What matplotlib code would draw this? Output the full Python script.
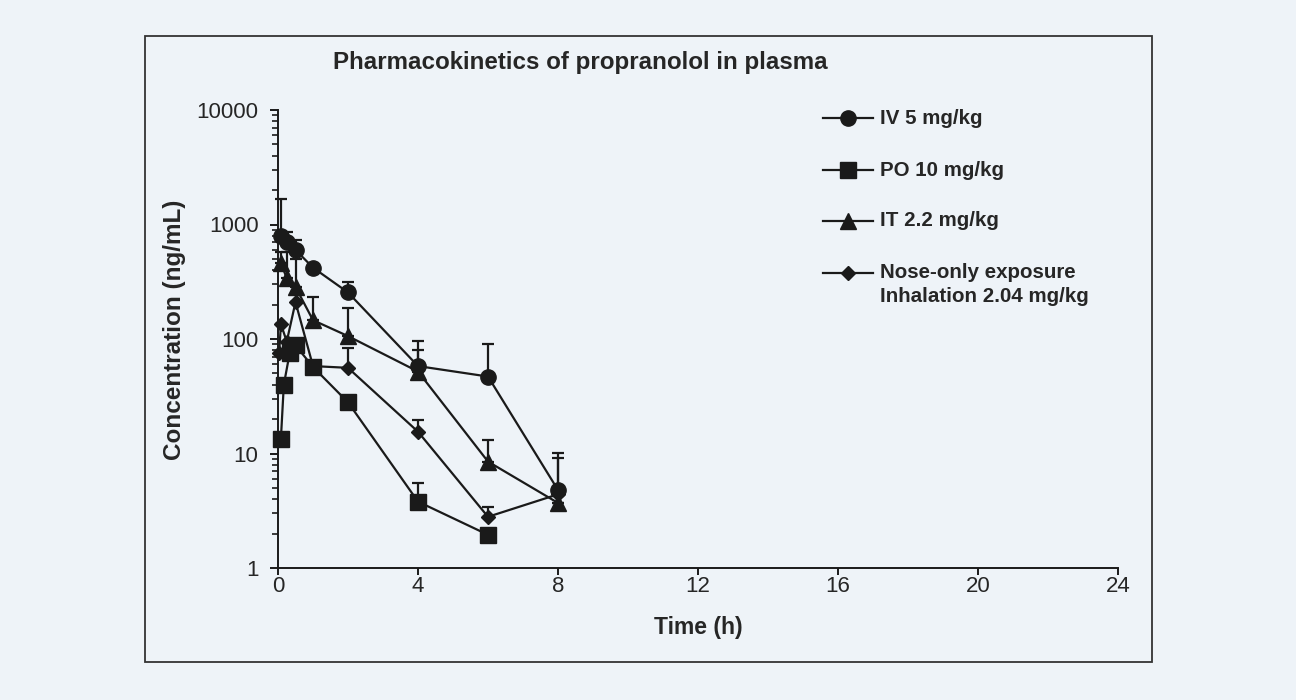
import numpy as np
import matplotlib
matplotlib.use("Agg")
import matplotlib.pyplot as plt
from matplotlib.lines import Line2D
from matplotlib.patches import Rectangle

plt.rcParams['font.family'] = ['Liberation Sans', 'DejaVu Sans']

# plasma concentrations (ng/mL), mean and upper SD
iv_t = [0.083, 0.25, 0.5, 1, 2, 4, 6, 8]
iv_c = [800, 700, 600, 420, 255, 58, 47, 4.8]
iv_sd = [860, 160, 130, 0, 60, 38, 44, 5.4]

po_t = [0.083, 0.167, 0.333, 0.5, 1, 2, 4, 6]
po_c = [13.5, 40, 75, 88, 57, 28, 3.8, 1.95]
po_sd = [0, 0, 0, 0, 0, 0, 1.7, 0]

it_t = [0.083, 0.25, 0.5, 1, 2, 4, 6, 8]
it_c = [460, 340, 285, 146, 106, 52, 8.5, 3.7]
it_sd = [120, 230, 210, 88, 82, 28, 4.5, 0]

inh_t = [0.033, 0.083, 0.25, 0.5, 1, 2, 4, 6, 8]
inh_c = [75, 135, 95, 210, 58, 56, 15.5, 2.8, 4.4]
inh_sd = [0, 0, 0, 0, 0, 27, 4, 0.6, 4.7]

labels = ["IV 5 mg/kg", "PO 10 mg/kg", "IT 2.2 mg/kg",
          "Nose-only exposure\nInhalation 2.04 mg/kg"]

bg = '#eef3f8'
ink = '#1a1a1a'
txt = '#262626'
fig = plt.figure(figsize=(12.96, 7.0), dpi=100, facecolor=bg)
ax = fig.add_axes([278/1296, 1-568/700, 840/1296, 458/700], facecolor=bg)

# outer frame around the panel
fig.patches.append(Rectangle((145/1296, 1-662/700), 1007/1296, 626/700,
                             transform=fig.transFigure, fill=False,
                             edgecolor='#333333', lw=1.3))

series = [(iv_t, iv_c, iv_sd, 'o', 11),
          (po_t, po_c, po_sd, 's', 11),
          (it_t, it_c, it_sd, '^', 12),
          (inh_t, inh_c, inh_sd, 'D', 7.5)]

for t, c, sd, mk, ms in series:
    sd = np.array(sd, dtype=float)
    ax.errorbar(t, c, yerr=[np.zeros_like(sd), sd], fmt='none',
                ecolor=ink, elinewidth=1.6, capsize=4.5, capthick=1.6,
                clip_on=False, zorder=2)
    ax.plot(t, c, color=ink, lw=1.6, marker=mk, ms=ms, mfc=ink, mec=ink,
            clip_on=False, zorder=3)

ax.set_yscale('log')
ax.set_ylim(1, 10000)
ax.set_xlim(0, 24)
ax.set_xticks([0, 4, 8, 12, 16, 20, 24])
ax.set_yticks([1, 10, 100, 1000, 10000])
ax.set_yticklabels(['1', '10', '100', '1000', '10000'])
ax.yaxis.set_minor_locator(matplotlib.ticker.LogLocator(base=10, subs=np.arange(2, 10)))
ax.yaxis.set_minor_formatter(matplotlib.ticker.NullFormatter())

for s in ['top', 'right']:
    ax.spines[s].set_visible(False)
for s in ['left', 'bottom']:
    ax.spines[s].set_linewidth(1.4)
    ax.spines[s].set_color(ink)

ax.tick_params(axis='y', which='major', direction='out', length=6, width=1.4,
               colors=ink, labelsize=16, labelcolor=txt, pad=8)
ax.tick_params(axis='x', which='major', direction='out', length=5, width=1.4,
               colors=ink, labelsize=16, labelcolor=txt, pad=1)
ax.tick_params(axis='y', which='minor', direction='out', length=4, width=1.2, colors=ink)

ax.set_xlabel('Time (h)', fontsize=16.5, fontweight='bold', color=txt, labelpad=13.5)
ax.set_ylabel('Concentration (ng/mL)', fontsize=17.5, fontweight='bold', color=txt)
ax.yaxis.set_label_coords(-0.109, 0.52)

fig.text(580/1296, 1-62/700, 'Pharmacokinetics of propranolol in plasma',
         ha='center', va='center', fontsize=17.4, fontweight='bold', color=txt)

# legend drawn by hand so the handle sits on the first text line
leg_y = [118, 170, 221, 273]
for (t, c, sd, mk, ms), lab, y in zip(series, labels, leg_y):
    yf = 1 - y/700
    fig.add_artist(Line2D([823/1296, 873/1296], [yf, yf], transform=fig.transFigure,
                          color=ink, lw=1.6))
    fig.add_artist(Line2D([848/1296], [yf], transform=fig.transFigure,
                          marker=mk, ms=ms, color=ink, mfc=ink, mec=ink))
    fig.text(880/1296, yf, lab.split('\n')[0], ha='left', va='center',
             fontsize=14.8, fontweight='bold', color=txt)
    if '\n' in lab:
        fig.text(880/1296, 1-(y+24)/700, lab.split('\n')[1], ha='left', va='center',
                 fontsize=14.8, fontweight='bold', color=txt)

fig.savefig('out.png', dpi=100, facecolor=bg)
